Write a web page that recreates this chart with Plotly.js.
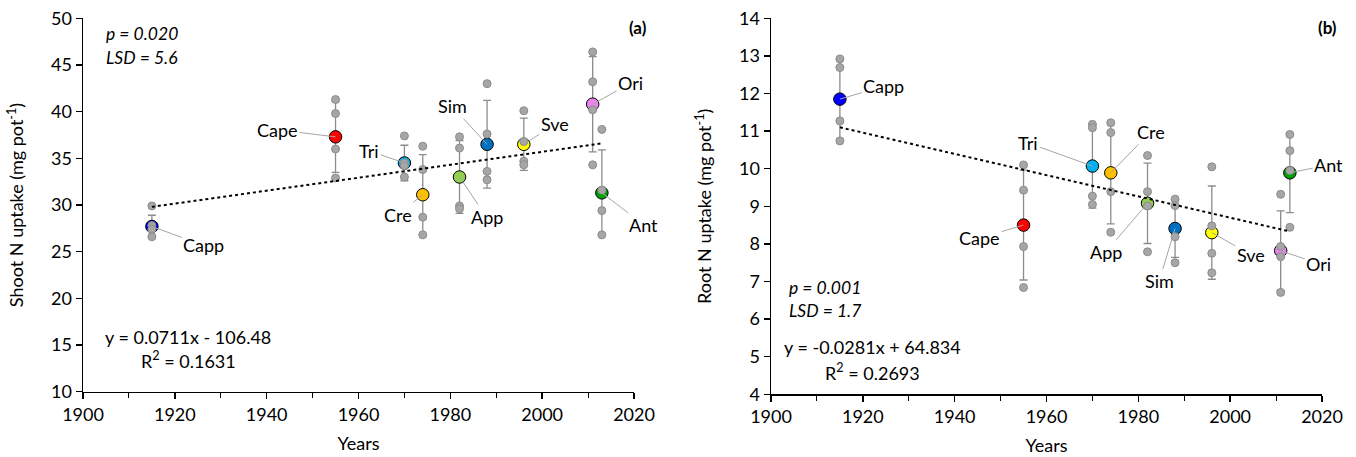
<!DOCTYPE html>
<html>
<head>
<meta charset="utf-8">
<script src="https://cdn.plot.ly/plotly-3.0.1.min.js"></script>
<style>html,body{margin:0;padding:0;background:#fff;}#chart{width:1356px;height:457px;}</style>
</head>
<body>
<div id="chart"></div>
<script>
// ---- data ----
const names = ["Capp", "Cape", "Tri", "Cre", "App", "Sim", "Sve", "Ori", "Ant"];
const years = [1915, 1955, 1970, 1974, 1982, 1988, 1996, 2011, 2013];
const colors = ["#0000FF", "#FF0000", "#00B0F0", "#FFC000", "#92D050", "#0070C0", "#FFFF00", "#EE82EE", "#00A000"];

// Panel (a): shoot N uptake
const meanA = [27.7, 37.3, 34.5, 31.1, 33.0, 36.5, 36.5, 40.8, 31.3];
const sdA = [1.2, 3.8, 1.9, 4.3, 3.9, 4.7, 2.8, 5.1, 4.6];
const repsA = [
  [29.9, 27.8, 27.4, 26.6],
  [41.3, 39.8, 36.0, 32.9],
  [37.4, 34.5, 34.2, 33.0],
  [36.3, 33.8, 28.7, 26.8],
  [37.3, 36.1, 29.9, 29.6],
  [43.0, 37.6, 33.6, 32.7],
  [40.1, 36.8, 34.7, 34.3],
  [46.4, 43.2, 40.2, 34.3],
  [38.1, 31.6, 29.4, 26.8]
];
const trendAx = [1915, 2013];
const trendAy = [29.8, 36.6];

// Panel (b): root N uptake
const meanB = [11.85, 8.50, 10.07, 9.89, 9.08, 8.41, 8.30, 7.82, 9.89];
const sdB = [1.05, 1.46, 1.12, 1.36, 1.07, 0.77, 1.24, 1.06, 1.06];
const repsB = [
  [12.92, 12.69, 11.27, 10.74],
  [10.10, 9.43, 7.93, 6.84],
  [11.18, 11.09, 9.27, 9.05],
  [11.22, 10.96, 9.39, 8.31],
  [10.35, 9.39, 9.01, 7.79],
  [9.19, 9.02, 8.19, 7.50],
  [10.05, 8.48, 7.75, 7.23],
  [9.32, 7.93, 7.66, 6.71],
  [10.91, 10.48, 9.95, 8.44]
];
const trendBx = [1915, 2013];
const trendBy = [11.1, 8.33];

// label offsets (pixels) for leader-line annotations
const offA = [[52, 19], [-58, -7], [-35, -12], [-25, 20], [27, 40], [-35, -38], [31, -20], [38, -21], [42, 32]];
const offB = [[44, -13], [-44, 13], [-64, -23], [40, -41], [-42, 49], [-16, 53], [39, 22], [38, 13], [39, -8]];

const FONT = "Lato, 'Open Sans', sans-serif";
const GRAY = "#a6a6a6";

function panelTraces(means, sds, reps, tx, ty, xa, ya) {
  const out = [];
  out.push({
    type: "scatter", mode: "markers", x: years, y: means, xaxis: xa, yaxis: ya,
    marker: {size: 1, color: "rgba(0,0,0,0)"},
    error_y: {type: "data", array: sds, visible: true, color: "#8c8c8c", thickness: 1.3, width: 4},
    hoverinfo: "skip", showlegend: false
  });
  out.push({
    type: "scatter", mode: "markers", x: years, y: means, xaxis: xa, yaxis: ya,
    marker: {size: 12.5, color: colors, line: {color: "#000", width: 1}},
    showlegend: false
  });
  const rx = [], ry = [];
  reps.forEach((r, i) => r.forEach(v => { rx.push(years[i]); ry.push(v); }));
  out.push({
    type: "scatter", mode: "markers", x: rx, y: ry, xaxis: xa, yaxis: ya,
    marker: {size: 8, color: GRAY, line: {color: "#8c8c8c", width: 1}},
    showlegend: false
  });
  out.push({
    type: "scatter", mode: "lines", x: tx, y: ty, xaxis: xa, yaxis: ya,
    line: {color: "#000", width: 2, dash: "dot"}, showlegend: false
  });
  return out;
}

const data = [].concat(
  panelTraces(meanA, sdA, repsA, trendAx, trendAy, "x", "y"),
  panelTraces(meanB, sdB, repsB, trendBx, trendBy, "x2", "y2")
);

function labelAnns(means, offs, xr, yr) {
  return names.map((n, i) => ({
    x: years[i], y: means[i], xref: xr, yref: yr, text: n,
    showarrow: true, arrowhead: 0, arrowwidth: 1, arrowcolor: GRAY,
    ax: offs[i][0], ay: offs[i][1], standoff: 0,
    font: {family: FONT, size: 18, color: "#000"}
  }));
}

const txt = (x, y, t, opts) => Object.assign({
  xref: "paper", yref: "paper", x: x / 1356, y: 1 - y / 457, text: t, showarrow: false,
  xanchor: "center", yanchor: "middle",
  font: {family: FONT, size: 18, color: "#000"}
}, opts || {});

const annotations = [].concat(
  labelAnns(meanA, offA, "x", "y"),
  labelAnns(meanB, offB, "x2", "y2"),
  [
    txt(104, 33, "<i>p = 0.020</i>", {xanchor: "left", font: {family: FONT, size: 17.5, color: "#000"}}),
    txt(104, 57, "<i>LSD = 5.6</i>", {xanchor: "left", font: {family: FONT, size: 17.5, color: "#000"}}),
    txt(188, 337, "y = 0.0711x - 106.48"),
    txt(188, 360, "R<sup>2</sup> = 0.1631"),
    txt(638, 27, "<b>(a)</b>", {font: {family: FONT, size: 17, color: "#000"}}),
    txt(787, 287, "<i>p = 0.001</i>", {xanchor: "left", font: {family: FONT, size: 17.5, color: "#000"}}),
    txt(787, 310, "<i>LSD = 1.7</i>", {xanchor: "left", font: {family: FONT, size: 17.5, color: "#000"}}),
    txt(872, 347, "y = -0.0281x + 64.834"),
    txt(872, 372, "R<sup>2</sup> = 0.2693"),
    txt(1327, 27, "<b>(b)</b>", {font: {family: FONT, size: 17, color: "#000"}})
  ]
);

const xCommon = {
  range: [1900, 2020], dtick: 20, tick0: 1900, showgrid: false, zeroline: false,
  showline: true, linecolor: "#000", linewidth: 1.5, ticks: "outside", ticklen: 6, tickwidth: 1.5, tickcolor: "#000",
  minor: {dtick: 10, tick0: 1900, ticks: "outside", ticklen: 5, tickwidth: 1, tickcolor: "#000"},
  tickfont: {family: FONT, size: 18, color: "#000"},
  title: {text: "Years", font: {family: FONT, size: 18, color: "#000"}, standoff: 13}
};
const yCommon = {
  showgrid: false, zeroline: false, showline: true, linecolor: "#000", linewidth: 1.5,
  ticks: "outside", ticklen: 6, tickwidth: 1.5, tickcolor: "#000",
  tickfont: {family: FONT, size: 18, color: "#000"}
};

const layout = {
  width: 1356, height: 457, margin: {l: 0, r: 0, t: 0, b: 0},
  paper_bgcolor: "#fff", plot_bgcolor: "#fff",
  showlegend: false,
  xaxis: Object.assign({}, xCommon, {domain: [83 / 1356, 634 / 1356], anchor: "y"}),
  xaxis2: Object.assign({}, xCommon, {domain: [771 / 1356, 1322 / 1356], anchor: "y2"}),
  yaxis: Object.assign({}, yCommon, {
    domain: [1 - 391.7 / 457, 1 - 18.3 / 457], anchor: "x", range: [10, 50], dtick: 5,
    title: {text: "Shoot N uptake (mg pot<sup>-1</sup>)", font: {family: FONT, size: 18, color: "#000"}, standoff: 22}
  }),
  yaxis2: Object.assign({}, yCommon, {
    domain: [1 - 394.3 / 457, 1 - 18.3 / 457], anchor: "x2", range: [4, 14], dtick: 1,
    title: {text: "Root N uptake (mg pot<sup>-1</sup>)", font: {family: FONT, size: 18, color: "#000"}, standoff: 22}
  }),
  annotations: annotations
};

Plotly.newPlot("chart", data, layout, {displayModeBar: false, staticPlot: true});
</script>
</body>
</html>
